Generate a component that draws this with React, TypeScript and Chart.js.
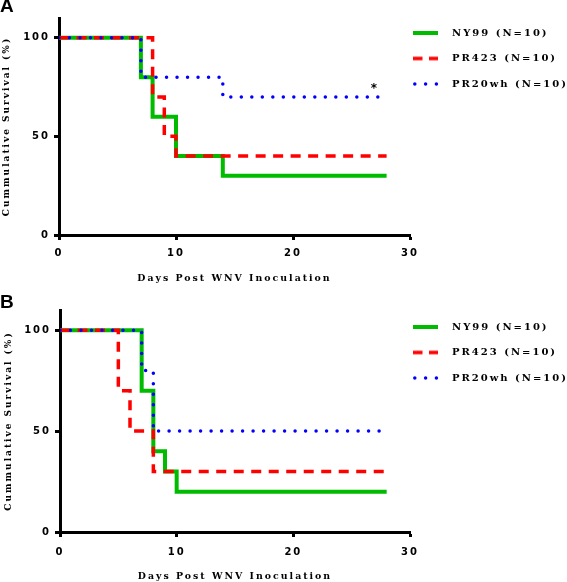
import React, { useEffect, useRef } from 'react';
import { Chart, registerables } from 'chart.js';

Chart.register(...registerables);

// ---- Data ----
const SERIES_LABELS = ['NY99 (N=10)', 'PR423 (N=10)', 'PR20wh (N=10)'];

// Panel A
const A_NY99_DAYS = [0, 7, 8, 10, 14, 28];
const A_NY99_SURV = [100, 80, 60, 40, 30, 30];
const A_PR423_DAYS = [0, 8, 9, 10, 28];
const A_PR423_SURV = [100, 70, 50, 40, 40];
const A_PR20WH_DAYS = [0, 7, 14, 28];
const A_PR20WH_SURV = [100, 80, 70, 70];

// Panel B
const B_NY99_DAYS = [0, 7, 8, 9, 10, 28];
const B_NY99_SURV = [100, 70, 40, 30, 20, 20];
const B_PR423_DAYS = [0, 5, 6, 8, 28];
const B_PR423_SURV = [100, 70, 50, 30, 30];
const B_PR20WH_DAYS = [0, 7, 8, 28];
const B_PR20WH_SURV = [100, 80, 50, 50];

const X_TICKS = [0, 10, 20, 30];
const Y_TICKS = [0, 50, 100];
const X_TITLE = 'Days Post WNV Inoculation';
const Y_TITLE = 'Cummulative Survival (%)';
const A_ASTERISK = { day: 27, survival: 74, text: '*' };

// ---- Styles ----
const GREEN = '#00BB00';
const RED = '#FF0000';
const BLUE = '#0000FF';
const LETTER_SPACING = '2px';
const SANS = "'DejaVu Sans', sans-serif";
const SERIF = "'DejaVu Serif', serif";

const SERIES_STYLES = [
  { color: GREEN, width: 4, dash: [] as number[], cap: 'butt' as CanvasLineCap, order: 3 },
  { color: RED, width: 3.5, dash: [10, 7.5], cap: 'butt' as CanvasLineCap, order: 2 },
  { color: BLUE, width: 3.5, dash: [0, 10.5], cap: 'round' as CanvasLineCap, order: 1 },
];

function makeSample(style: any): HTMLCanvasElement {
  const c = document.createElement('canvas');
  c.width = 34;
  c.height = 8;
  const g = c.getContext('2d')!;
  g.strokeStyle = style.color;
  g.lineWidth = style.width;
  g.lineCap = style.cap;
  g.setLineDash(style.dash.length ? (style.cap === 'round' ? [0, 10.8] : [9.5, 6.5]) : []);
  g.beginPath();
  g.moveTo(style.cap === 'round' ? 1.8 : 0, 4);
  g.lineTo(25, 4);
  g.stroke();
  return c;
}

const spacingPlugin = {
  id: 'letterSpacing',
  beforeUpdate(chart: any) {
    chart.ctx.letterSpacing = LETTER_SPACING;
  },
  beforeDraw(chart: any) {
    chart.ctx.letterSpacing = LETTER_SPACING;
  },
};

const asteriskPlugin = {
  id: 'asterisk',
  afterDatasetsDraw(chart: any, _args: any, opts: any) {
    const mark = opts && opts.mark;
    if (!mark) return;
    const { ctx, scales } = chart;
    ctx.save();
    ctx.font = `bold 12px ${SANS}`;
    ctx.fillStyle = '#000';
    ctx.textAlign = 'center';
    ctx.textBaseline = 'middle';
    ctx.fillText(mark.text, scales.x.getPixelForValue(mark.day), scales.y.getPixelForValue(mark.survival));
    ctx.restore();
  },
};

function makeConfig(p: any, samples: HTMLCanvasElement[]): any {
  const series = [
    [p.nyDays, p.nySurv],
    [p.prDays, p.prSurv],
    [p.pwDays, p.pwSurv],
  ];
  return {
    type: 'line',
    data: {
      datasets: series.map(([days, surv], i) => ({
        label: SERIES_LABELS[i],
        data: days.map((d: number, k: number) => ({ x: d, y: surv[k] })),
        borderColor: SERIES_STYLES[i].color,
        backgroundColor: SERIES_STYLES[i].color,
        borderWidth: SERIES_STYLES[i].width,
        borderDash: SERIES_STYLES[i].dash,
        borderCapStyle: SERIES_STYLES[i].cap,
        borderJoinStyle: 'miter',
        stepped: true,
        pointRadius: 0,
        fill: false,
        order: SERIES_STYLES[i].order,
      })),
    },
    options: {
      responsive: false,
      animation: false,
      devicePixelRatio: 1,
      events: [],
      layout: { padding: 0 },
      scales: {
        x: {
          type: 'linear',
          min: 0,
          max: 30,
          afterBuildTicks: (s: any) => {
            s.ticks = X_TICKS.map((v) => ({ value: v }));
          },
          afterFit: (s: any) => {
            s.height = p.xHeight;
          },
          ticks: {
            color: '#000',
            padding: p.xTickPad,
            maxRotation: 0,
            font: { family: SANS, size: 10, weight: 'bold' },
          },
          grid: { display: true, drawOnChartArea: false, drawTicks: true, tickLength: 5, tickWidth: 3, tickColor: '#000' },
          border: { display: true, width: 3, color: '#000' },
          title: {
            display: true,
            text: X_TITLE,
            color: '#000',
            font: { family: SERIF, size: 9.4, weight: 'bold', lineHeight: 1.2 },
            padding: { top: 0, bottom: p.xTitlePadBottom },
          },
        },
        y: {
          type: 'linear',
          min: 0,
          max: 110,
          afterBuildTicks: (s: any) => {
            s.ticks = Y_TICKS.map((v) => ({ value: v }));
          },
          afterFit: (s: any) => {
            s.width = p.yWidth;
          },
          ticks: {
            color: '#000',
            padding: 4,
            font: { family: SANS, size: 10, weight: 'bold' },
          },
          grid: { display: true, drawOnChartArea: false, drawTicks: true, tickLength: 5, tickWidth: 3, tickColor: '#000' },
          border: { display: true, width: 3, color: '#000' },
          title: {
            display: true,
            text: Y_TITLE,
            color: '#000',
            font: { family: SERIF, size: 9, weight: 'bold', lineHeight: 1.2 },
            padding: { top: p.yTitlePadTop, bottom: 0 },
          },
        },
      },
      plugins: {
        tooltip: { enabled: false },
        title: {
          display: true,
          text: p.title,
          align: 'start',
          color: '#000',
          font: { family: "'Liberation Sans', Arial, sans-serif", size: 19, weight: 'bold', lineHeight: `${p.titleLH}px` },
          padding: p.titlePad,
        },
        legend: {
          display: true,
          position: 'right',
          align: 'start',
          fullSize: true,
          maxWidth: 157,
          title: { display: true, text: ' ', padding: 0, font: { size: 10, lineHeight: `${p.legendTitleH}px` } },
          labels: {
            color: '#000',
            padding: 3,
            usePointStyle: true,
            pointStyleWidth: 34,
            font: { family: SERIF, size: 10, weight: 'bold', lineHeight: '22.5px' },
            sort: (a: any, b: any) => a.datasetIndex - b.datasetIndex,
            generateLabels: (chart: any) => {
              const items = (Chart.defaults.plugins.legend.labels as any).generateLabels(chart);
              return items.map((it: any) => ({
                ...it,
                text: [it.text],
                pointStyle: samples[it.datasetIndex],
                fontColor: '#000',
              }));
            },
          },
        },
        asterisk: { mark: p.asterisk },
      },
    },
    plugins: [spacingPlugin, asteriskPlugin],
  };
}

const PANEL_A = {
  title: 'A',
  titleLH: 18,
  titlePad: { top: -2, bottom: 2 },
  yWidth: 59,
  xHeight: 56,
  xTickPad: 7.5,
  xTitlePadBottom: 7,
  yTitlePadTop: 1.5,
  legendTitleH: 25,
  asterisk: A_ASTERISK,
  nyDays: A_NY99_DAYS,
  nySurv: A_NY99_SURV,
  prDays: A_PR423_DAYS,
  prSurv: A_PR423_SURV,
  pwDays: A_PR20WH_DAYS,
  pwSurv: A_PR20WH_SURV,
};

const PANEL_B = {
  title: 'B',
  titleLH: 15,
  titlePad: { top: 4, bottom: 0 },
  yWidth: 60,
  xHeight: 50,
  xTickPad: 9.7,
  xTitlePadBottom: 0,
  yTitlePadTop: 3,
  legendTitleH: 28,
  asterisk: null,
  nyDays: B_NY99_DAYS,
  nySurv: B_NY99_SURV,
  prDays: B_PR423_DAYS,
  prSurv: B_PR423_SURV,
  pwDays: B_PR20WH_DAYS,
  pwSurv: B_PR20WH_SURV,
};

export default function App() {
  const refA = useRef<HTMLCanvasElement>(null);
  const refB = useRef<HTMLCanvasElement>(null);

  useEffect(() => {
    const samples = SERIES_STYLES.map(makeSample);
    const a = new Chart(refA.current!, makeConfig(PANEL_A, samples));
    const b = new Chart(refB.current!, makeConfig(PANEL_B, samples));
    return () => {
      a.destroy();
      b.destroy();
    };
  }, []);

  return (
    <div style={{ position: 'absolute', left: 0, top: 0, width: 567, height: 582, background: '#fff' }}>
      <canvas ref={refA} width={567} height={291} style={{ position: 'absolute', left: 0, top: 0, width: 567, height: 291 }} />
      <canvas ref={refB} width={567} height={291} style={{ position: 'absolute', left: 0, top: 291, width: 567, height: 291 }} />
    </div>
  );
}
